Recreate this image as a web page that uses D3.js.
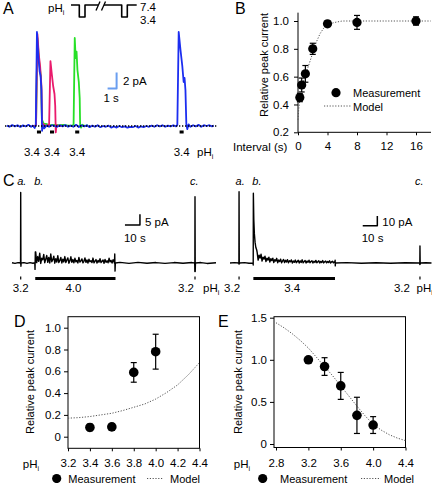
<!DOCTYPE html>
<html><head><meta charset="utf-8">
<script src="https://cdn.jsdelivr.net/npm/d3@7"></script>
<style>body{margin:0;background:#fff}svg{display:block}text{font-family:"Liberation Sans",Arial,Helvetica,sans-serif;fill:#000}</style>
</head><body><svg id="c" width="432" height="483"></svg>
<script>
// ---------------- DATA ----------------
// Panel A traces [time s, current pA]
const traceBlueA = [[0.2,0.05],[0.5,-0.1],[0.8,0.12],[1.1,-0.05],[1.4,0.1],[1.7,-0.12],[2.0,0.08],[2.3,-0.05],[2.6,0.15],[2.9,-0.1],[3.1,0.05],[3.3,-0.25],[3.42,0.1],
 [3.55,11.75],[3.7,8.8],[3.85,6.8],[3.95,6.3],[4.05,4.5],[4.12,-0.6],[4.2,0.1],[4.35,-0.3],
 [4.6,0.05],[4.9,-0.1],[5.2,0.1],[5.5,0.0],[5.8,-0.1],[6.1,0.1],[6.4,-0.05],[6.7,0.12],[7.0,-0.1],[7.3,0.05],[7.6,-0.1],[7.9,0.15],[8.2,-0.12],[8.5,0.1],[8.8,-0.05],[9.1,0.1],[9.4,-0.15],[9.7,0.05],[10.0,-0.1],[10.3,0.1],[10.6,-0.15],[10.9,0.0],[11.2,-0.1],[11.5,0.05],[11.8,-0.2],[12.1,-0.05],[12.4,-0.2],[12.7,0.0],[13.0,-0.15],[13.3,-0.05],[13.6,-0.2],[13.9,-0.1],[14.2,-0.15],[14.5,0.0],[14.8,-0.2],[15.1,-0.05],[15.4,-0.15],[15.7,0.0],[16.0,-0.1],[16.3,0.05],[16.6,-0.1],[16.9,0.1],[17.2,-0.05],[17.5,0.1],[17.8,-0.1],[18.1,0.05],[18.4,-0.05],[18.7,0.1],[19.0,-0.05],[19.15,0.15],
 [19.3,11.75],[19.5,9.5],[19.7,7.5],[19.85,5.5],[19.95,6.0],[20.05,4.5],[20.15,0.2],[20.25,-0.4],[20.4,0.2],[20.6,-0.1],[20.9,0.1],[21.2,-0.05],[21.5,0.15],[21.8,-0.1],[22.1,0.1],[22.4,0.0],[22.7,0.1],[23.0,-0.05],[23.2,0.05]];
const tracePinkA = [[3.0,0.0],[3.3,0.05],[3.45,0.1],[3.6,11.5],[3.75,9.0],[3.9,7.5],[4.05,5.0],[4.12,-0.2],[4.2,0.3],[4.5,0.0],[4.75,0.1],[4.9,0.1],
 [5.05,8.1],[5.2,6.5],[5.35,5.0],[5.5,4.0],[5.58,2.5],[5.64,-0.8],[5.72,0.1],[6.0,0.0],[6.3,0.05]];
const traceGreenA = [[3.3,0.0],[3.45,0.05],[3.6,11.0],[3.8,8.0],[4.0,6.0],[4.1,0.8],[4.3,0.3],[4.6,0.25],[5.0,0.1],[5.5,0.15],[6.0,0.1],[6.5,0.15],[7.0,0.05],[7.5,0.05],[7.62,0.2],
 [7.75,11.0],[7.85,8.5],[7.95,9.3],[8.05,7.0],[8.2,5.5],[8.3,3.5],[8.35,0.0],[8.45,-0.2],[8.6,0.15],[8.9,0.0],[9.2,0.1]];
const pulsesA = [[3.55,4.0],[5.0,5.45],[7.8,8.25],[19.4,19.85]];
const pulseLabelA = "3.4";
// pH protocol schematic [arbitrary time, pH]
const protoSeg1 = [[0,7.4],[8.3,7.4],[8.3,3.4],[14,3.4],[14,7.4],[27,7.4]];
const protoSeg2 = [[33,7.4],[50.7,7.4],[50.7,3.4],[56.3,3.4],[56.3,7.4],[65.7,7.4]];
const protoBreaks = [[[25,5.6],[29,8.6]],[[30.5,5.6],[34.5,8.6]]];
const protoLevels = ["7.4","3.4"];

// Panel B
const intervalsB = [0.25,0.5,1,2,4,8,16];
const peakB = [0.45,0.54,0.62,0.80,0.98,0.99,1.00];
const errB = [0.03,0.05,0.06,0.04,0.02,0.05,0.03];
const modelBT = [0,0.1,0.25,0.5,0.75,1,1.5,2,2.5,3,3.5,4,5,6,8,12,18];
const modelBV = [0.29,0.37,0.43,0.51,0.565,0.61,0.69,0.77,0.85,0.91,0.95,0.975,0.99,1.0,1.0,1.0,1.0];
const ticksBX = [0,4,8,12,16];
const ticksBY = [0.2,0.4,0.6,0.8,1.0];

// Panel C traces [time s, current pA]
const traceC1 = [[0,0.1],[2,-0.2],[4,0.2],[5.5,0.1],[5.7,-0.4],[5.8,33],[5.95,-1.5],[6.1,0],[8,0.2],[10,-0.2],[12,0.2],[14,-0.1],[15.2,0.1],[15.35,-3],[15.55,5.2],[15.7,0.4]];
const noiseC1Start = 15.8, noiseC1Dt = 0.67;
const noiseC1 = [5.2,0.2,3.0,0.8,4.6,-0.2,2.2,1.5,4.0,0.1,
 1.8,3.5,0.3,2.6,0.0,4.2,0.6,1.5,3.2,-0.1,
 2.0,0.4,3.4,0.2,1.2,2.6,0.0,1.8,0.5,3.0,
 0.2,1.4,2.4,-0.1,1.0,2.9,0.3,1.6,0.1,2.2,
 0.6,1.2,0.0,2.6,0.4,1.0,1.9,0.1,0.8,2.4,
 0.3,1.4,0.0,1.8,0.6,1.1,0.2,2.3,0.1,0.9,
 1.6,0.0,1.2,0.4,2.0,0.2,0.8,1.4,-0.1,1.7,
 0.3,1.0,0.1,2.2,0.5,1.2,0.0,1.5,0.6];
const traceC1End = [[68.3,0],[68.5,4.2],[68.7,-3.8],[68.9,0],[72,0.3],[78,-0.2],[84,0.3],[90,-0.1],[96,0.2],[102,-0.2],[108,0.2],[114,-0.1],[120,0.2],[121.8,0],[121.9,-4],[122,31],[122.15,-4],[122.3,0],[126,0.2],[130,-0.2],[136,0.1]];
const traceC2 = [[0,0],[3,0.4],[6.0,0],[6.1,-1],[6.2,73.5],[6.35,-1],[6.5,0],[10,0.4],[13,-0.3],[15.8,0],[15.9,-2],[16.0,72],[16.3,45],[16.7,30],[17.2,21],[17.7,16],[18.3,13.4]];
const noiseC2Start = 18.6, noiseC2Dt = 0.67;
const noiseC2 = [11,3,8,5,9,2,6,4,7,1.5,
 5,3,6,1,4.5,2.5,5,0.5,3.5,2,
 4.8,0.3,3,1.5,4,0.2,2.2,3.6,0.4,2.8,
 1,3.5,0.2,2.4,1.2,3.2,0,2,0.8,3,
 0.3,1.6,2.8,0,2.2,0.6,3.3,0.2,1.4,2.6,
 0,2,0.8,2.9,0.3,1.5,2.4,0,1.8,0.6,
 2.7,0.2,1.2,2.2,0,1.6,0.5,2.5,0.1,1.3,
 2,0.2,1.5,0.6,2.3,0,1.1,1.8,0.2,1.4];
const traceC2End = [[71.9,0.3],[72.0,3],[72.1,-3],[72.2,0],[80,0.4],[90,-0.3],[100,0.3],[110,-0.2],[120,0.3],[129.9,0],[130.0,-1.5],[130.1,17.5],[130.25,-1.2],[130.4,0],[134,0.3],[138,0]];
const pulseC1 = {a:5.8, b:[15.5,69], c:122, labels:["3.2","4.0","3.2"]};
const pulseC2 = {a:6.2, b:[16,71.9], c:130.1, labels:["3.2","3.4","3.2"]};

// Panel D
const phD = [3.4,3.6,3.8,4.0];
const peakD = [0.085,0.09,0.59,0.78];
const errD = [0.03,0.03,0.09,0.16];
const modelDpH = [3.2,3.3,3.4,3.5,3.6,3.7,3.8,3.9,4.0,4.1,4.2,4.3,4.4];
const modelDV = [0.17,0.175,0.185,0.20,0.215,0.24,0.27,0.30,0.345,0.405,0.475,0.57,0.68];
const ticksDX = [3.2,3.4,3.6,3.8,4.0,4.2,4.4];
const ticksDY = [0,0.2,0.4,0.6,0.8,1.0];

// Panel E
const phE = [3.2,3.4,3.6,3.8,4.0];
const peakE = [1.0,0.92,0.69,0.34,0.225];
const errE = [0,0.105,0.16,0.215,0.1];
const modelEpH = [2.8,2.9,3.0,3.1,3.2,3.3,3.4,3.5,3.6,3.7,3.8,3.9,4.0,4.1,4.2,4.3,4.4];
const modelEV = [1.44,1.38,1.31,1.23,1.14,1.03,0.92,0.81,0.69,0.57,0.45,0.335,0.235,0.165,0.11,0.07,0.04];
const ticksEX = [2.8,3.2,3.6,4.0,4.4];
const ticksEY = [0,0.5,1.0,1.5];

// ---------------- DRAW ----------------
const svg = d3.select("#c");
const FS = 11.5;
function text(x,y,s,o={}){
  return svg.append("text").attr("x",x).attr("y",y).attr("font-size",o.size||FS)
    .attr("text-anchor",o.anchor||"start").attr("font-style",o.style||null).text(s);
}
function phText(x,y,anchor){
  const t = svg.append("text").attr("x",x).attr("y",y).attr("font-size",FS).attr("text-anchor",anchor||"start");
  t.append("tspan").text("pH");
  t.append("tspan").attr("font-size","7px").attr("dy",3).text("i");
  return t;
}
function path(data,x,y,stroke,w,dash){
  return svg.append("path").datum(data).attr("fill","none").attr("stroke",stroke)
    .attr("stroke-width",w).attr("stroke-linejoin","round").attr("stroke-dasharray",dash||null)
    .attr("d",d3.line().x(d=>x(d[0])).y(d=>y(d[1])));
}
const dotted = "1.2,1.6";
const modelColor = "#555";

// Panel letters
text(3,14,"A",{size:16}); text(235,14,"B",{size:16});
text(3,186,"C",{size:16}); text(14,327,"D",{size:16}); text(218,327,"E",{size:16});

// ---- Panel A ----
const xA = d3.scaleLinear().domain([0,24]).range([5,221]);
const yA = d3.scaleLinear().domain([0,10]).range([126,46]);
path(traceGreenA,xA,yA,"#27e027",1.8);
path(tracePinkA,xA,yA,"#ea1a6c",1.8);
path(traceBlueA,xA,yA,"#1c2ef0",1.8);
path([[0,0],[23.65,0]],xA,yA,"#000",1.3,"1.3,1.7");
pulsesA.forEach((p,i)=>{
  svg.append("rect").attr("x",xA(p[0])).attr("y",130.5).attr("width",xA(p[1])-xA(p[0])).attr("height",3).attr("fill","#000");
  text((xA(p[0])+xA(p[1]))/2 + (i===0?-7:0),156,pulseLabelA,{anchor:"middle"});
});
phText(197,156);
// scale bar A
path([[11.4,4.7],[12.4,4.7],[12.4,6.7]],xA,yA,"#6a9ef0",2);
text(123,85,"2 pA"); text(103.5,102,"1 s");
// protocol schematic
const xP = d3.scaleLinear().domain([0,66]).range([71,137]);
const yP = d3.scaleLinear().domain([3.4,7.4]).range([17,5]);
path(protoSeg1,xP,yP,"#000",1.6); path(protoSeg2,xP,yP,"#000",1.6);
protoBreaks.forEach(b=>path(b,xP,yP,"#000",1.3));
phText(48,12);
text(140,11,protoLevels[0]); text(140,24,protoLevels[1]);

// ---- Panel B ----
const xB = d3.scaleLinear().domain([0,18]).range([298,430.75]);
const yB = d3.scaleLinear().domain([0.2,1.0]).range([132.3,21]);
svg.append("line").attr("x1",298).attr("x2",298).attr("y1",yB(1.06)).attr("y2",yB(0.2)).attr("stroke","#000");
const gBx = svg.append("g").attr("transform","translate(0,132.3)")
  .call(d3.axisBottom(xB).tickValues(ticksBX).tickSize(3).tickPadding(7).tickSizeOuter(0).tickFormat(d3.format("d")));
const gBy = svg.append("g").attr("transform","translate(298,0)")
  .call(d3.axisLeft(yB).tickValues(ticksBY).tickSize(4).tickPadding(5).tickSizeOuter(0).tickFormat(d3.format(".1f")));
[gBx,gBy].forEach(g=>{g.select(".domain").remove();g.selectAll("text").attr("font-size",FS).attr("font-family",null);g.selectAll("line").attr("stroke","#000");});
svg.append("line").attr("x1",298).attr("x2",431).attr("y1",132.3).attr("y2",132.3).attr("stroke","#000");
text(233,151,"Interval  (s)");
svg.append("text").attr("transform","translate(268,65) rotate(-90)").attr("text-anchor","middle").attr("font-size",11).text("Relative peak current");
path(modelBT.map((t,i)=>[t,modelBV[i]]),xB,yB,modelColor,1,dotted);
intervalsB.forEach((t,i)=>{
  const x=xB(t);
  if(errB[i]>0){
    svg.append("line").attr("x1",x).attr("x2",x).attr("y1",yB(peakB[i]+errB[i])).attr("y2",yB(peakB[i]-errB[i])).attr("stroke","#000").attr("stroke-width",1.2);
    [peakB[i]+errB[i],peakB[i]-errB[i]].forEach(v=>svg.append("line").attr("x1",x-3).attr("x2",x+3).attr("y1",yB(v)).attr("y2",yB(v)).attr("stroke","#000").attr("stroke-width",1.2));
  }
  svg.append("circle").attr("cx",x).attr("cy",yB(peakB[i])).attr("r",4.6).attr("fill","#000");
});
svg.append("circle").attr("cx",336).attr("cy",92.7).attr("r",4.6).attr("fill","#000");
text(353,97,"Measurement",{size:11});
svg.append("line").attr("x1",324).attr("x2",351).attr("y1",106).attr("y2",106).attr("stroke",modelColor).attr("stroke-dasharray",dotted);
text(353,110.5,"Model",{size:11});

// ---- Panel C ----
function samples(start,dt,vals){return vals.map((v,i)=>[start+i*dt,v]);}
function drawC(xS,yS,pre,nStart,nDt,noise,post,pulse,sb,labDx,pHx){
  path(pre.concat(samples(nStart,nDt,noise),post),xS,yS,"#000",1.4);
  svg.append("rect").attr("x",xS(pulse.b[0])).attr("y",277).attr("width",xS(pulse.b[1])-xS(pulse.b[0])).attr("height",3).attr("fill","#000");
  [pulse.a,pulse.c].forEach(t=>svg.append("rect").attr("x",xS(t)-0.6).attr("y",276.5).attr("width",1.2).attr("height",3).attr("fill","#000"));
  text(xS(pulse.a)+labDx[0],292,pulse.labels[0],{anchor:"middle"});
  text((xS(pulse.b[0])+xS(pulse.b[1]))/2+labDx[1],292,pulse.labels[1],{anchor:"middle"});
  text(xS(pulse.c)+labDx[2],292,pulse.labels[2],{anchor:"middle"});
  phText(pHx,292);
  text(xS(pulse.a)-3.5,185,"a.",{size:11,style:"italic"});
  text(xS(pulse.b[0])-1,185,"b.",{size:11,style:"italic"});
  text(xS(pulse.c)-5,185,"c.",{size:11,style:"italic"});
  path([[sb.t,sb.i],[sb.t+10,sb.i],[sb.t+10,sb.i+sb.di]],xS,yS,"#000",1.5);
  text(xS(sb.t+10)+5,226,sb.lab);
  text(xS(sb.t)-1,241.5,"10 s");
}
const xC1 = d3.scaleLinear().domain([0,136]).range([12,216]);
const yC1 = d3.scaleLinear().domain([0,5]).range([263,252.3]);
drawC(xC1,yC1,traceC1,noiseC1Start,noiseC1Dt,noiseC1,traceC1End,pulseC1,{t:75.3,i:17.8,di:5,lab:"5 pA"},[0,-2,-9],203);
const xC2 = d3.scaleLinear().domain([0,138]).range([230,431.5]);
const yC2 = d3.scaleLinear().domain([0,10]).range([263,253.3]);
drawC(xC2,yC2,traceC2,noiseC2Start,noiseC2Dt,noiseC2,traceC2End,pulseC2,{t:90.9,i:38.5,di:10,lab:"10 pA"},[-7,-2,-18],416.5);

// ---- Panels D & E ----
function scatterPanel(o){
  const x=o.x, y=o.y;
  svg.append("rect").attr("x",o.box[0]).attr("y",o.box[1]).attr("width",o.box[2]-o.box[0]).attr("height",o.box[3]-o.box[1]).attr("fill","none").attr("stroke","#000");
  const gx = svg.append("g").attr("transform",`translate(0,${o.box[3]})`)
    .call(d3.axisBottom(x).tickValues(o.tx).tickSize(3).tickPadding(8).tickSizeOuter(0).tickFormat(d3.format(".1f")));
  const gy = svg.append("g").attr("transform",`translate(${o.box[0]},0)`)
    .call(d3.axisLeft(y).tickValues(o.ty).tickSize(4).tickPadding(3).tickSizeOuter(0).tickFormat(d=>d===0?"0":d3.format(".1f")(d)));
  [gx,gy].forEach(g=>{g.select(".domain").remove();g.selectAll("text").attr("font-size",FS).attr("font-family",null);g.selectAll("line").attr("stroke","#000");});
  svg.append("text").attr("transform",`translate(${o.ylabX},382) rotate(-90)`).attr("text-anchor","middle").attr("font-size",11).text("Relative peak current");
  phText(o.phX,468,"middle");
  path(o.mx.map((v,i)=>[v,o.my[i]]),x,y,modelColor,1,dotted);
  o.px.forEach((p,i)=>{
    const cx=x(p), v=o.py[i], e=o.pe[i];
    if(e>0){
      svg.append("line").attr("x1",cx).attr("x2",cx).attr("y1",y(v+e)).attr("y2",y(v-e)).attr("stroke","#000").attr("stroke-width",1.2);
      [v+e,v-e].forEach(w=>svg.append("line").attr("x1",cx-3).attr("x2",cx+3).attr("y1",y(w)).attr("y2",y(w)).attr("stroke","#000").attr("stroke-width",1.2));
    }
    svg.append("circle").attr("cx",cx).attr("cy",y(v)).attr("r",4.8).attr("fill","#000");
  });
  svg.append("circle").attr("cx",o.leg[0]).attr("cy",478.5).attr("r",4.6).attr("fill","#000");
  text(o.leg[1],482.5,"Measurement",{size:11});
  svg.append("line").attr("x1",o.leg[2]).attr("x2",o.leg[3]).attr("y1",478.5).attr("y2",478.5).attr("stroke",modelColor).attr("stroke-dasharray",dotted);
  text(o.leg[4],482.5,"Model",{size:11});
}
scatterPanel({x:d3.scaleLinear().domain([3.2,4.4]).range([68,199.5]), y:d3.scaleLinear().domain([0,1]).range([436.7,327.7]),
  box:[68,316.7,199.5,448.3], tx:ticksDX, ty:ticksDY, ylabX:34, phX:31,
  mx:modelDpH, my:modelDV, px:phD, py:peakD, pe:errD, leg:[56.7,68.3,147,163,170]});
scatterPanel({x:d3.scaleLinear().domain([2.8,4.4]).range([276,405.5]), y:d3.scaleLinear().domain([0,1.5]).range([444,317.7]),
  box:[274,316.7,405.5,447.5], tx:ticksEX, ty:ticksEY, ylabX:242, phX:242,
  mx:modelEpH, my:modelEV, px:phE, py:peakE, pe:errE, leg:[262.7,280,361,380.7,384]});
</script></body></html>
